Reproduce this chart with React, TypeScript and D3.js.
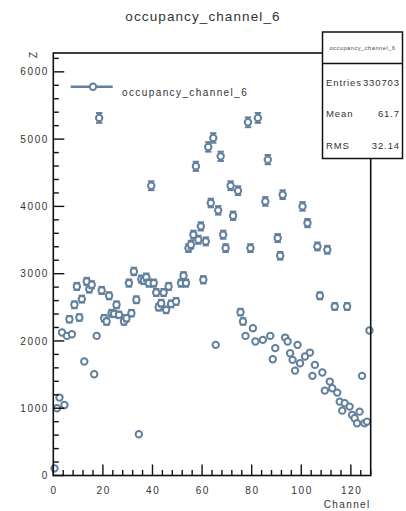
import React from "react";
import * as d3 from "d3";

// Occupancy per channel (bin index -> counts)
const CHANNELS = [
  0, 1, 2, 3, 4, 5, 6, 7, 8, 9, 10, 11, 12, 13, 14, 15, 16, 17, 18, 19,
  20, 21, 22, 23, 24, 25, 26, 28, 29, 30, 31, 32, 33, 34, 35, 36, 37, 38, 39,
  40, 41, 42, 43, 44, 45, 46, 47, 49, 51, 52, 53, 54, 55, 56, 57, 58, 59,
  60, 61, 62, 63, 64, 65, 66, 67, 68, 69, 71, 72, 74, 75, 76, 77, 78, 79,
  80, 81, 82, 84, 85, 86, 87, 88, 89, 90, 91, 92, 93, 94, 95, 96, 97, 98, 99,
  100, 101, 102, 103, 104, 105, 106, 107, 108, 109, 110, 111, 112, 113, 114,
  115, 116, 117, 118, 119, 120, 121, 122, 123, 124, 125, 126, 127,
];
const COUNTS = [
  106, 1000, 1158, 2125, 1049, 2075, 2323, 2100, 2537, 2810, 2348, 2622, 1694,
  2884, 2771, 2835, 1505, 2075, 5315, 2751,
  2338, 2289, 2671, 2413, 2403, 2537, 2388, 2289, 2338, 2860, 2413, 3033, 2612,
  613, 2919, 2899, 2948, 2860, 4307,
  2860, 2720, 2502, 2561, 2720, 2462, 2810, 2551, 2587, 2860, 2968, 2860, 3380,
  3430, 3579, 4596, 3504, 3703,
  2909, 3480, 4884, 4050, 5017, 1942, 3941, 4744, 3579, 3380, 4307, 3861, 4233,
  2428, 2289, 2075, 5250, 3380,
  2190, 1991, 5315, 2016, 4074, 4695, 2075, 1729, 1893, 3529, 3266, 4174, 2050,
  1991, 1817, 1719, 1559, 1942, 1668,
  4000, 1768, 3752, 1827, 1481, 1644, 3405, 2671, 1530, 1262, 3355, 1396, 1297,
  2512, 1232,
  1098, 964, 1074, 2512, 1024, 900, 851, 776, 949, 1481, 776, 801, 2155,
];

const X_TICKS = [0, 20, 40, 60, 80, 100, 120];
const Y_TICKS = [0, 1000, 2000, 3000, 4000, 5000, 6000];
const STAT_LABELS = ["Entries", "Mean", "RMS"];
const STAT_VALUES = ["330703", "61.7", "32.14"];
const HIST_NAME = "occupancy_channel_6";

const W = 406;
const H = 511;
const FRAME = { left: 53.3, right: 370.7, top: 53, bottom: 475.5 };
const MARK = "#62809c";
const INK = "#333";
const FONT = "'Liberation Sans', Arial, Helvetica, sans-serif";

export default function App() {
  const x = d3.scaleLinear().domain([0, 128]).range([FRAME.left, FRAME.right]);
  const y = d3.scaleLinear().domain([0, 6280]).range([FRAME.bottom, FRAME.top]);

  const xMinor = d3.range(0, 129, 4);
  const yMinor = d3.range(0, 6201, 200);
  const r = 3.2;

  const points = CHANNELS.map((c, i) => ({ c, v: COUNTS[i] }));

  return (
    <svg
      width={W}
      height={H}
      style={{ position: "absolute", left: 0, top: 0, background: "#fff" }}
      fontFamily={FONT}
    >
      <rect x={0} y={0} width={W} height={H} fill="#fff" />

      {/* title */}
      <text x={203} y={21} textAnchor="middle" fontSize={13.5} letterSpacing={1.1} fill={INK}>
        {HIST_NAME}
      </text>

      {/* markers with sqrt(N) error bars */}
      <g stroke={MARK} fill="none">
        {points.map((p, i) => {
          const cx = x(p.c + 0.5);
          const cy = y(p.v);
          const e = y(p.v - Math.sqrt(p.v)) - cy;
          return (
            <g key={i}>
              {e > r && (
                <>
                  <line x1={cx} x2={cx} y1={cy - e} y2={cy - r} strokeWidth={2.2} />
                  <line x1={cx} x2={cx} y1={cy + r} y2={cy + e} strokeWidth={2.2} />
                  <line x1={cx - 3.2} x2={cx + 3.2} y1={cy - e} y2={cy - e} strokeWidth={2} />
                  <line x1={cx - 3.2} x2={cx + 3.2} y1={cy + e} y2={cy + e} strokeWidth={2} />
                </>
              )}
              <circle cx={cx} cy={cy} r={r} strokeWidth={2} fill="#fff" />
            </g>
          );
        })}
      </g>

      {/* frame */}
      <rect
        x={FRAME.left}
        y={FRAME.top}
        width={FRAME.right - FRAME.left}
        height={FRAME.bottom - FRAME.top}
        fill="none"
        stroke="#111"
        strokeWidth={1.6}
      />

      {/* y axis ticks */}
      <g stroke="#111" strokeWidth={1.4}>
        {yMinor.map((t) => {
          const major = t % 1000 === 0;
          return (
            <line
              key={t}
              x1={FRAME.left}
              x2={FRAME.left + (major ? 11 : 5.5)}
              y1={y(t)}
              y2={y(t)}
            />
          );
        })}
      </g>
      <g fontSize={10} letterSpacing={1.6} fill={INK} textAnchor="end">
        {Y_TICKS.map((t) => (
          <text key={t} x={49} y={y(t) + 3.6}>
            {t}
          </text>
        ))}
      </g>
      <text
        transform={`translate(37,52) rotate(-90)`}
        textAnchor="end"
        fontSize={10}
        fill={INK}
      >
        Z
      </text>

      {/* x axis ticks */}
      <g stroke="#111" strokeWidth={1.4}>
        {xMinor.map((t) => {
          const major = t % 20 === 0;
          return (
            <line
              key={t}
              x1={x(t)}
              x2={x(t)}
              y1={FRAME.bottom}
              y2={FRAME.bottom - (major ? 11 : 5.5)}
            />
          );
        })}
      </g>
      <g fontSize={10} letterSpacing={1.6} fill={INK} textAnchor="middle">
        {X_TICKS.map((t) => (
          <text key={t} x={x(t) + 0.8} y={494}>
            {t}
          </text>
        ))}
      </g>
      <text x={370.7} y={507.5} textAnchor="end" fontSize={10} letterSpacing={1.4} fill={INK}>
        Channel
      </text>

      {/* legend */}
      <line x1={70.7} x2={112.7} y1={86.7} y2={86.7} stroke={MARK} strokeWidth={2.6} />
      <circle cx={93} cy={86.7} r={r} stroke={MARK} strokeWidth={2} fill="#fff" />
      <text x={122} y={96} fontSize={10} letterSpacing={1.4} fill={INK}>
        {HIST_NAME}
      </text>

      {/* statistics box */}
      <rect x={322.5} y={32} width={80} height={126.5} fill="#fff" stroke="#111" strokeWidth={1.5} />
      <line x1={322.5} x2={402.5} y1={63.5} y2={63.5} stroke="#111" strokeWidth={1.5} />
      <text x={362.5} y={50} textAnchor="middle" fontSize={5.5} letterSpacing={0.6} fill="#444">
        {HIST_NAME}
      </text>
      <g fontSize={9.5} letterSpacing={0.9} fill={INK}>
        {STAT_LABELS.map((l, i) => (
          <text key={l} x={326} y={85.5 + i * 31.5}>
            {l}
          </text>
        ))}
        {STAT_VALUES.map((v, i) => (
          <text key={v} x={400} y={85.5 + i * 31.5} textAnchor="end">
            {v}
          </text>
        ))}
      </g>
    </svg>
  );
}
